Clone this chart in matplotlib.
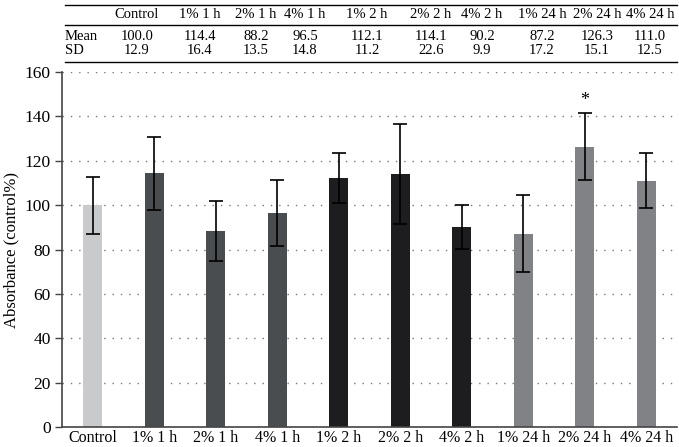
import matplotlib
matplotlib.use("Agg")
import matplotlib.pyplot as plt

categories = ["Control", "1% 1 h", "2% 1 h", "4% 1 h", "1% 2 h", "2% 2 h", "4% 2 h", "1% 24 h", "2% 24 h", "4% 24 h"]
means = [100.0, 114.4, 88.2, 96.5, 112.1, 114.1, 90.2, 87.2, 126.3, 111.0]
sds = [12.9, 16.4, 13.5, 14.8, 11.2, 22.6, 9.9, 17.2, 15.1, 12.5]
colors = ["#c9cacc", "#4a4d50", "#4a4d50", "#4a4d50", "#1d1d1f", "#1d1d1f", "#1d1d1f", "#808285", "#808285", "#808285"]
yticks = [0, 20, 40, 60, 80, 100, 120, 140, 160]

plt.rcParams['font.family'] = ['Liberation Serif', 'DejaVu Serif']

fig = plt.figure(figsize=(6.79, 4.47), dpi=100)
ax = fig.add_axes([62/679, 1-427/447, (677-62)/679, (427-72)/447])

x = list(range(len(categories)))
ax.bar(x, means, width=0.31, color=colors, zorder=2)
ax.errorbar(x, means, yerr=sds, fmt='none', ecolor='black', elinewidth=1.2, capsize=5, capthick=1.2, zorder=3)
ax.text(8, means[8] + sds[8] + 2, "*", ha='center', va='bottom', fontsize=13)

ax.set_xlim(-0.5, len(categories) - 0.5)
ax.set_ylim(0, 160)
ax.set_yticks(yticks)
ax.set_xticks(x)
ax.set_xticklabels(categories, fontsize=11.5)
ax.tick_params(axis='x', length=0, pad=2)
ax.tick_params(axis='y', labelsize=12.5, length=5, width=1, color='#444444', direction='out', pad=3)
for yv in yticks[1:]:
    ax.axhline(yv, color='#777777', linestyle=(0, (1, 5)), linewidth=1, zorder=1)
ax.spines['top'].set_visible(False)
ax.spines['right'].set_visible(False)
ax.spines['left'].set_color('#444444')
ax.spines['bottom'].set_color('#444444')
ax.spines['left'].set_linewidth(1.2)
ax.spines['bottom'].set_linewidth(1.2)
ax.set_ylabel("Absorbance (control%)", fontsize=12, labelpad=4)

# table at top
col_x = [137, 200, 256, 305, 367, 431, 482, 542, 597, 650]
x0, x1 = 65/679, 677/679
def fy(p):
    return 1 - p/447
for yy in [5, 25, 62]:
    fig.add_artist(plt.Line2D([x0, x1], [fy(yy), fy(yy)], color='black', linewidth=1.0))
fs = 10.5
fig.text(65/679, fy(37), "Mean", ha='left', va='center', fontsize=fs)
fig.text(65/679, fy(50), "SD", ha='left', va='center', fontsize=fs)
for cx, c, m, s in zip(col_x, categories, means, sds):
    fig.text(cx/679, fy(15), c, ha='center', va='center', fontsize=fs)
    fig.text(cx/679, fy(37), f"{m:.1f}", ha='center', va='center', fontsize=fs)
    fig.text(cx/679, fy(50), f"{s:.1f}", ha='center', va='center', fontsize=fs)

fig.savefig("out.png", dpi=100)
